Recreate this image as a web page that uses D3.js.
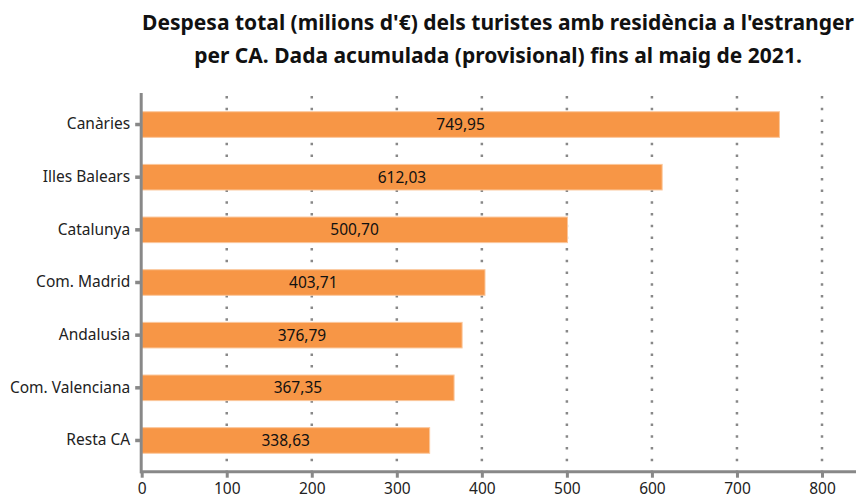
<!DOCTYPE html>
<head>
    <meta charset='utf-8'>
    <title>Despesa total turistes</title>
    <script src='https://cdn.jsdelivr.net/npm/d3@7'></script>
    <style>
        body { margin: 0; background: white; font-family: 'Noto Sans', sans-serif; }
        .tick text { font-size: 15.5px; fill: #222; font-family: 'Noto Sans'; }
    </style>
</head>
<body>
<script>
//DATA
var regions = ['Canàries', 'Illes Balears', 'Catalunya', 'Com. Madrid', 'Andalusia', 'Com. Valenciana', 'Resta CA'];
var spend = [749.95, 612.03, 500.70, 403.71, 376.79, 367.35, 338.63];
var ticks = [0, 100, 200, 300, 400, 500, 600, 700, 800];
var title = ["Despesa total (milions d'€) dels turistes amb residència a l'estranger",
             "per CA. Dada acumulada (provisional) fins al maig de 2021."];

var W = 859, H = 498;
var ca = d3.formatLocale({decimal: ',', thousands: '.', grouping: [3], currency: ['', '€']});
var fmt = ca.format('.2f');

var x = d3.scaleLinear().domain([0, 800]).range([141.7, 822]);
var y = d3.scaleBand().domain(regions).range([98.2, 466.8]).paddingInner(0.514).paddingOuter(0.257);

var svg = d3.select('body').append('svg')
    .attr('width', W).attr('height', H);

//TITLE
svg.selectAll('.title').data(title).enter()
    .append('text')
    .attr('class', 'title')
    .attr('x', 498).attr('y', (d, i) => 30 + i * 33)
    .attr('text-anchor', 'middle')
    .style('font-family', 'Noto Sans').style('font-weight', 'bold').style('font-size', '21px')
    .style('fill', '#111')
    .text(d => d);

//GRID
svg.selectAll('.grid').data(ticks.slice(1)).enter()
    .append('line')
    .attr('x1', d => x(d)).attr('x2', d => x(d))
    .attr('y1', 96).attr('y2', 471)
    .attr('stroke', '#888').attr('stroke-width', 2.5)
    .attr('stroke-dasharray', '2.5,9.2');

//BARS
svg.selectAll('.bar').data(regions).enter()
    .append('rect')
    .attr('x', x(0)).attr('y', d => y(d))
    .attr('width', (d, i) => x(spend[i]) - x(0))
    .attr('height', y.bandwidth())
    .attr('fill', '#f79646').attr('stroke', '#fbc79c').attr('stroke-width', 1);

svg.selectAll('.lbl').data(regions).enter()
    .append('text')
    .attr('x', (d, i) => (x(0) + x(spend[i])) / 2)
    .attr('y', d => y(d) + y.bandwidth() / 2)
    .attr('dy', '0.36em')
    .attr('text-anchor', 'middle')
    .style('font-size', '15.5px').style('fill', '#111')
    .text((d, i) => fmt(spend[i]));

//AXES
var xAxis = svg.append('g')
    .attr('transform', 'translate(0,471.7)')
    .call(d3.axisBottom(x).tickValues(ticks).tickSize(6).tickPadding(5).tickFormat(d3.format('d')));
xAxis.select('.domain').remove();
xAxis.selectAll('.tick line').attr('stroke', '#888').attr('stroke-width', 3);
svg.append('line')
    .attr('x1', 140.2).attr('x2', 856).attr('y1', 471.7).attr('y2', 471.7)
    .attr('stroke', '#888').attr('stroke-width', 3);

var yAxis = svg.append('g')
    .attr('transform', 'translate(141.2,0)')
    .call(d3.axisLeft(y).tickSize(6).tickPadding(5));
yAxis.select('.domain').remove();
yAxis.selectAll('.tick line').attr('stroke', '#888').attr('stroke-width', 3.5);
svg.append('line')
    .attr('x1', 141.2).attr('x2', 141.2).attr('y1', 93).attr('y2', 473.2)
    .attr('stroke', '#888').attr('stroke-width', 3);
</script>
</body>
